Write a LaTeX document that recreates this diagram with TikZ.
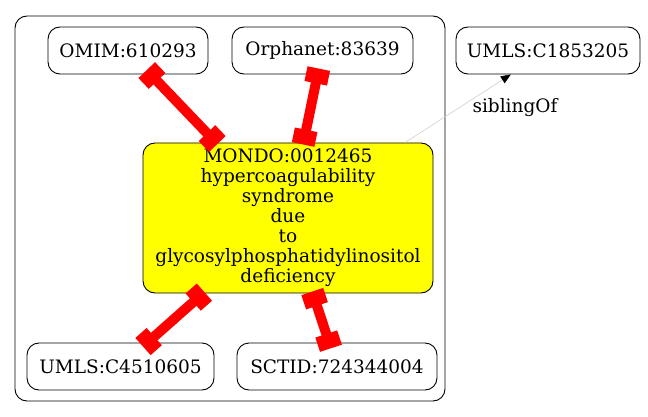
\documentclass[tikz,border=0pt]{standalone}
\usepackage{fontspec}
\setmainfont{DejaVu Serif}
\usetikzlibrary{arrows.meta}
\definecolor{xred}{HTML}{FF0000}
\definecolor{xyellow}{HTML}{FFFF00}
\definecolor{sibgray}{HTML}{D0D0D0}
\begin{document}
\begin{tikzpicture}[x=1pt,y=-1pt,
  box/.style={draw=black, line width=0.9pt, rounded corners=12pt, inner sep=0pt,
    font=\fontsize{18.5}{20}\selectfont},
  clusterbox/.style={draw=black, line width=0.9pt, rounded corners=12pt, inner sep=0pt},
  xref/.style={draw=xred, line width=10pt,
    arrows={Square[length=15pt,width=23pt]-Square[length=15pt,width=23pt]}},
  intop/.style={shorten <=-6pt, shorten >=-2pt},
  inbot/.style={shorten <=-2pt, shorten >=-6pt},
  sib/.style={draw=sibgray, line width=0.6pt,
    arrows={-Triangle[length=10pt,width=8pt,black]}},
  lbl/.style={inner sep=0pt, font=\fontsize{18.5}{20}\selectfont}]
\useasboundingbox (0,0) rectangle (648,417);
\node[clusterbox, minimum width=430pt, minimum height=385pt] (cluster) at (230,208.5) {};
\node[box, minimum width=160pt, minimum height=47pt] (omim) at (128,50.5) {OMIM:610293};
\node[box, minimum width=181pt, minimum height=47pt] (orpha) at (322.5,50.5) {Orphanet:83639};
\node[box, minimum width=184pt, minimum height=47pt] (umlsa) at (548,50.5) {UMLS:C1853205};
\node[box, fill=xyellow, minimum width=290pt, minimum height=150pt, align=center] (mondo) at (288,218)
  {MONDO:0012465\\hypercoagulability\\syndrome\\due\\to\\glycosylphosphatidylinositol\\deficiency};
\node[box, minimum width=187pt, minimum height=47pt] (umlsb) at (120.5,366.5) {UMLS:C4510605};
\node[box, minimum width=200pt, minimum height=47pt] (sctid) at (337,366.5) {SCTID:724344004};
\draw[xref, intop] (omim) -- (mondo);
\draw[xref, intop] (orpha) -- (mondo);
\draw[xref, inbot] (mondo) -- (umlsb);
\draw[xref, inbot] (mondo) -- (sctid);
\draw[sib] (mondo) -- (umlsa);
\node[lbl] (siblbl) at (515,108) {siblingOf};
\end{tikzpicture}
\end{document}
